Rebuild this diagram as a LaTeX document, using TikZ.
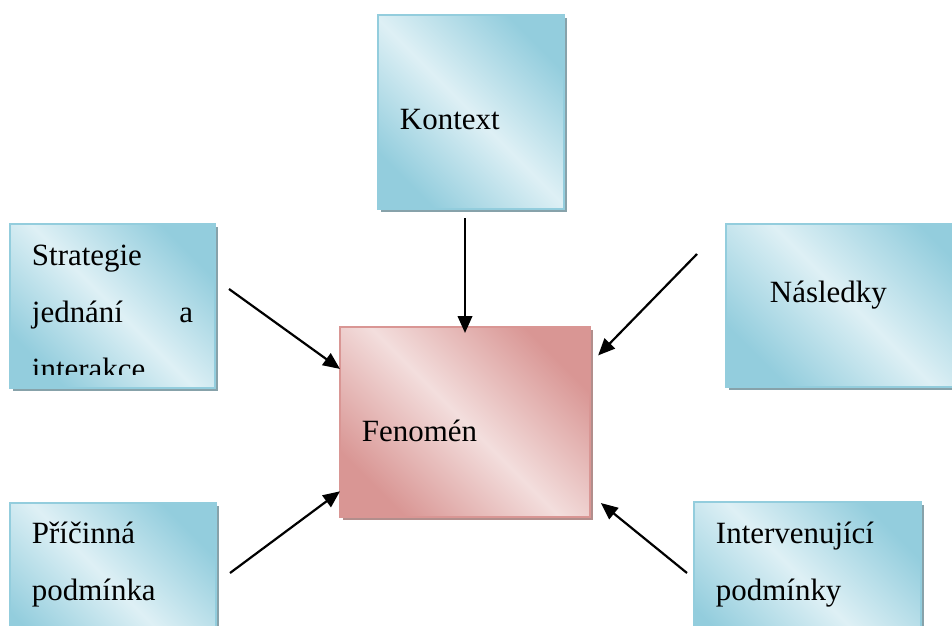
\documentclass[tikz,border=0pt]{standalone}
\usepackage{fontspec}
\setmainfont{Liberation Serif}
\usepackage{xcolor}
\usepackage{tikz}
\usetikzlibrary{shapes,arrows,positioning,calc,shadows,arrows.meta}

\definecolor{boxblue}{RGB}{147,205,221}
\definecolor{boxbluelight}{RGB}{222,240,245}
\definecolor{shadowblue}{RGB}{135,162,170}
\definecolor{boxpink}{RGB}{217,150,148}
\definecolor{boxpinklight}{RGB}{243,222,221}
\definecolor{shadowpink}{RGB}{178,142,140}

\begin{document}
\begin{tikzpicture}[x=0.025cm, y=-0.025cm, outer sep=0pt,
    bluebox/.style={draw=boxblue, line width=0.04cm, rectangle, top color=boxblue, bottom color=boxblue, middle color=boxbluelight, shading angle=-45, drop shadow={shadow xshift=0.08cm, shadow yshift=-0.08cm, fill=shadowblue, opacity=1}},
    pinkbox/.style={draw=boxpink, line width=0.04cm, rectangle, top color=boxpink, bottom color=boxpink, middle color=boxpinklight, shading angle=-45, drop shadow={shadow xshift=0.08cm, shadow yshift=-0.08cm, fill=shadowpink, opacity=1}},
    lbl/.style={anchor=base west, inner sep=0pt, font=\fontsize{22pt}{40.4pt}\selectfont},
    arr/.style={line width=0.055cm, -{Triangle[length=0.42cm, width=0.36cm]}}]
        \useasboundingbox (0,0) rectangle (952,625);
        \clip (0,0) rectangle (952,625);

        % Fenomen
        \node [pinkbox, minimum width=6.25cm, minimum height=4.75cm] (fen) at (465,422) {};
        \node [lbl] (fen-t) at ([shift={(22,115)}]fen.north west) {Fenomén};

        % Kontext
        \node [bluebox, minimum width=4.65cm, minimum height=4.85cm] (kon) at (471,112) {};
        \node [lbl] (kon-t) at ([shift={(22,115)}]kon.north west) {Kontext};

        % Strategie
        \node [bluebox, minimum width=5.125cm, minimum height=4.1cm] (str) at (112.5,306) {};
        \begin{scope}
            \clip (str.north west) rectangle ([yshift=0.33cm]str.south east);
            \node [lbl, text width=4.025cm, align=left] (str-t) at ([shift={(22,42)}]str.north west) {Strategie\\jednání\hfill a\\interakce};
        \end{scope}

        % Nasledky
        \node [bluebox, minimum width=6.35cm, minimum height=4.075cm] (nas) at (853,305.5) {};
        \node [lbl] (nas-t) at ([shift={(44,79)}]nas.north west) {Následky};

        % Pricinna podminka
        \node [bluebox, minimum width=5.15cm, minimum height=4.1cm] (pri) at (113,585) {};
        \node [lbl, text width=4.5cm, align=left] (pri-t) at ([shift={(22,41)}]pri.north west) {Příčinná\\podmínka};

        % Intervenujici podminky
        \node [bluebox, minimum width=5.675cm, minimum height=4.1cm] (int) at (807.5,584) {};
        \node [lbl, text width=5cm, align=left] (int-t) at ([shift={(22,42)}]int.north west) {Intervenující\\podmínky};

        % Arrows
        \coordinate (str-a) at (229,289);
        \coordinate (nas-a) at (697,254);
        \coordinate (pri-a) at (230,573);
        \coordinate (int-a) at (687,573);
        \draw [arr, shorten <=0.225cm, shorten >=-0.15cm] (fen.north |- kon.south) -- (fen.north);
        \draw [arr] (str-a) -- (fen.157);
        \draw [arr, shorten >=0.29cm] (nas-a) -- (fen.25);
        \draw [arr] (pri-a) -- (fen.209);
        \draw [arr, shorten >=0.35cm] (int-a) -- (fen.330);
    \end{tikzpicture}
\end{document}
